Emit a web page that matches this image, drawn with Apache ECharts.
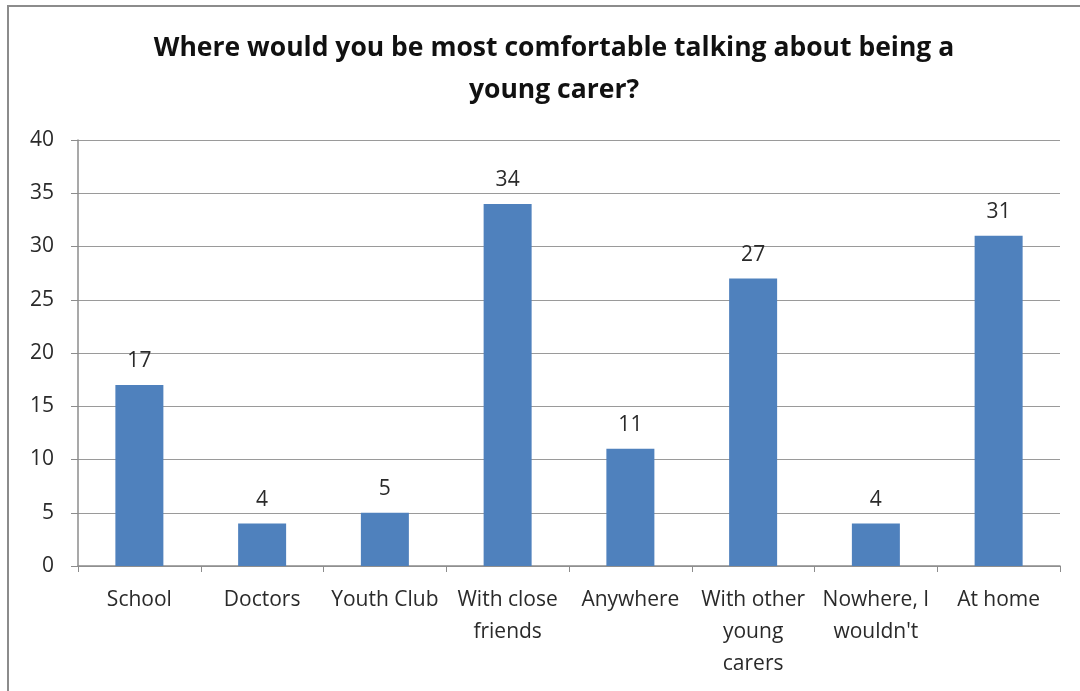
<!DOCTYPE html>
<html><head><meta charset="utf-8">
<script src="https://cdn.jsdelivr.net/npm/echarts@6/dist/echarts.min.js"></script>
<style>html,body{margin:0;padding:0;background:#fff}#c{width:1080px;height:691px}
#frame{position:absolute;left:7px;top:5px;width:1090px;height:700px;border:2px solid #8c8c8c;box-sizing:border-box;pointer-events:none}</style>
</head><body><div id="c"></div><div id="frame"></div>
<script>
const categories = ["School","Doctors","Youth Club","With close\nfriends","Anywhere","With other\nyoung\ncarers","Nowhere, I\nwouldn't","At home"];
const values = [17,4,5,34,11,27,4,31];
const yTicks = {min:0,max:40,interval:5};
const chart = echarts.init(document.getElementById('c'));
const font = "'Open Sans', 'Liberation Sans', sans-serif";
chart.setOption({
  animation:false,
  title:{text:"Where would you be most comfortable talking about being a\nyoung carer?",left:549,top:22,textAlign:'center',
    textStyle:{fontFamily:font,fontSize:26.5,fontWeight:'bold',color:'#111',lineHeight:42}},
  grid:{left:78,right:20,top:140,bottom:125},
  xAxis:{type:'category',data:categories,
    axisLine:{lineStyle:{color:'#8c8c8c',width:1.5}},
    axisTick:{show:true,alignWithLabel:false,length:6,lineStyle:{color:'#8c8c8c'}},
    axisLabel:{interval:0,fontFamily:font,fontSize:21,color:'#2a2a2a',lineHeight:32,margin:18}},
  yAxis:{type:'value',min:yTicks.min,max:yTicks.max,interval:yTicks.interval,
    axisLine:{show:true,lineStyle:{color:'#8c8c8c',width:1.5}},
    axisTick:{show:true,length:7,lineStyle:{color:'#8c8c8c'}},
    splitLine:{lineStyle:{color:'#9a9a9a',width:1.2}},
    axisLabel:{fontFamily:font,fontSize:21,color:'#2a2a2a',margin:24}},
  series:[{type:'bar',data:values,barWidth:48,
    itemStyle:{color:'#4f81bd'},
    label:{show:true,position:'top',distance:13,fontFamily:font,fontSize:21,color:'#2a2a2a'}}]
});
</script></body></html>
